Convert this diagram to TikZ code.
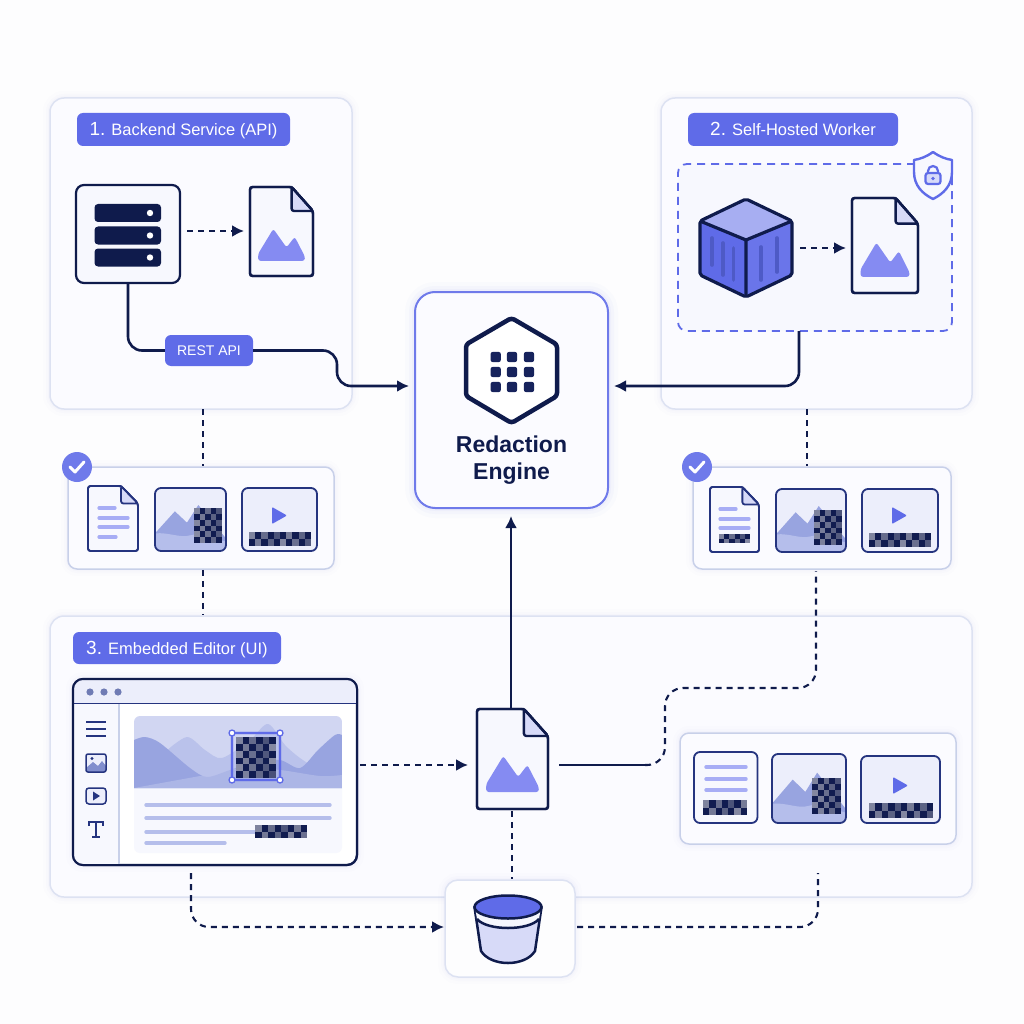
\documentclass[tikz,border=0pt]{standalone}
\usepackage{fontspec}
\setmainfont{Liberation Sans}
\usepackage{xcolor}
\usepackage{tikz}
\usetikzlibrary{arrows.meta,shapes,positioning}
\definecolor{navy}{HTML}{0F1B4C}
\definecolor{indigo}{HTML}{5F6BE8}
\definecolor{softindigo}{HTML}{858BF2}
\definecolor{paper}{HTML}{FDFDFE}
\definecolor{panelfill}{HTML}{FBFBFF}
\definecolor{panelline}{HTML}{DDE2F2}
\definecolor{stripline}{HTML}{C8D0E9}
\definecolor{iconfill}{HTML}{F7F8FE}
\definecolor{tileline}{HTML}{25347F}
\definecolor{tilefill}{HTML}{ECEEFB}
\definecolor{hillback}{HTML}{98A4E0}
\definecolor{hillfront}{HTML}{B5BEEB}
\definecolor{textline}{HTML}{A7ADF5}
\definecolor{pixdark}{HTML}{111C50}
\definecolor{pixlight}{HTML}{8A8EA6}
\tikzset{softglow/.style={preaction={draw=#1,line width=14pt,opacity=.01},
		preaction={draw=#1,line width=8pt,opacity=.014},
		preaction={draw=#1,line width=4pt,opacity=.02}},
	panel/.style={rectangle,draw=panelline,line width=1.5pt,fill=panelfill,rounded corners=14pt,inner sep=0pt,softglow=indigo},
	strip/.style={rectangle,draw=stripline,line width=1.5pt,fill=panelfill,rounded corners=9pt,inner sep=0pt,softglow=indigo},
	tag/.style={rectangle,fill=indigo,text=white,rounded corners=6pt,inner sep=0pt,text height=12pt,text depth=0pt,font=\fontsize{16.5}{18}\selectfont},
	darkbox/.style={rectangle,draw=navy,line width=2.2pt,fill=iconfill,rounded corners=8pt,inner sep=0pt},
	flowline/.style={draw=navy,line width=2.6pt,rounded corners=14pt},
	dashline/.style={draw=navy,line width=2.1pt,dash pattern=on 6pt off 5pt,rounded corners=18pt},
	tip/.style={-{Latex[length=12pt,width=12pt]}},
	sheet/.style={draw=#1,fill=iconfill,rounded corners=2.5pt,line join=round},
}
\newcommand{\bignum}[1]{{\fontsize{19}{18}\selectfont #1}}
%% x1 y1 x2 y2 cols rows
\newcommand{\pixblock}[6]{%
	\fill[pixdark] (#1,#2) rectangle (#3,#4);
	\foreach \i in {1,...,#5} \foreach \j in {1,...,#6} {
		\pgfmathparse{int(mod(\i+\j,2))}
		\ifnum\pgfmathresult=0
		\pgfmathsetmacro{\pixmix}{int(45+mod(\i*17+\j*29,55))}
		\fill[pixlight!\pixmix!pixdark] ({#1+(\i-1)*(#3-#1)/#5},{#2+(\j-1)*(#4-#2)/#6}) rectangle ({#1+\i*(#3-#1)/#5},{#2+\j*(#4-#2)/#6});
		\fi
	}
}
%% folded page, x1 y1 x2 y2 line width colour
\newcommand{\pageshape}[6]{%
	\begin{scope}[shift={(#1,#2)},x={1pt*(#3-#1)},y={1pt*(#2-#4)},line width=#5pt]
		\path[sheet=#6] (.66,0) -- (0,0) -- (0,1) -- (1,1) -- (1,.27) -- cycle;
		\draw[#6,fill=tilefill!85!indigo,rounded corners=2.5pt,line join=round] (.66,0) -- (.66,.27) -- (1,.27) -- cycle;
		\draw[#6,rounded corners=2.5pt] (.66,0) -- (0,0) -- (0,1) -- (1,1) -- (1,.27) -- (.66,0);
	\end{scope}
}
\newcommand{\hilldoc}[4]{%
	\pageshape{#1}{#2}{#3}{#4}{2.4}{navy}
	\begin{scope}[shift={(#1,#2)},x={1pt*(#3-#1)},y={1pt*(#2-#4)}]
		\fill[softindigo,rounded corners=2.5pt] (.13,.83) -- (.13,.75) -- (.37,.47) -- (.58,.68) -- (.71,.56) -- (.87,.78) -- (.87,.83) -- cycle;
	\end{scope}
}
\newcommand{\imgtile}[4]{%
	\begin{scope}
		\clip[rounded corners=6pt] (#1,#2) rectangle (#3,#4);
		\begin{scope}[shift={(#1,#2)},x={1pt*(#3-#1)},y={1pt*(#2-#4)}]
			\fill[tilefill] (0,0) rectangle (1,1);
			\fill[hillback] (0,.72) -- (.28,.37) -- (.45,.55) -- (.61,.27) -- (1,.8) -- (1,1) -- (0,1) -- cycle;
			\fill[hillfront] (0,.72) .. controls (.2,.7) and (.35,.8) .. (.5,.75) .. controls (.65,.7) and (.8,.8) .. (1,.85) -- (1,1) -- (0,1) -- cycle;
		\end{scope}
	\end{scope}
	\draw[tileline,line width=1.8pt,rounded corners=6pt] (#1,#2) rectangle (#3,#4);
}
\newcommand{\cliptile}[6]{%
	\fill[tilefill,rounded corners=6pt] (#1,#2) rectangle (#3,#4);
	\draw[tileline,line width=1.8pt,rounded corners=6pt] (#1,#2) rectangle (#3,#4);
	\fill[indigo,rounded corners=1pt,line join=round] (#5,#6) -- ++(0,17) -- ++(15,-8.5) -- cycle;
}
\begin{document}
\begin{tikzpicture}[x=1pt,y=-1pt]
	\useasboundingbox (0,0) rectangle (1024,1024);
	\fill[paper] (0,0) rectangle (1024,1024);
	
	\node[panel,minimum width=302pt,minimum height=311pt] (backend) at (201,253.5) {};
	\node[panel,minimum width=311pt,minimum height=311pt] (worker) at (816.5,253.5) {};
	\node[panel,minimum width=922pt,minimum height=281pt] (editorpanel) at (511,756.5) {};
	\node[tag,minimum width=213pt,minimum height=33pt] (tagone) at (183.5,129.5) {\bignum{1.} Backend Service (API)};
	\node[tag,minimum width=210pt,minimum height=33pt] (tagtwo) at (793,129.5) {\bignum{2.} Self-Hosted Worker};
	\node[tag,minimum width=208pt,minimum height=32pt] (tagthree) at (177,648) {\bignum{3.} Embedded Editor (UI)};
	
	%% redaction engine
	\node[rectangle,draw=indigo!90,line width=2pt,fill=panelfill,rounded corners=20pt,inner sep=0pt,
		minimum width=193pt,minimum height=216pt,
		preaction={draw=indigo,line width=20pt,opacity=.02},
		preaction={draw=indigo,line width=12pt,opacity=.03},
		preaction={draw=indigo,line width=6pt,opacity=.04}] (engine) at (511.5,400) {};
	\draw[navy,fill=white,line width=4.5pt,line join=round,rounded corners=3pt] (511.5,318) -- (557,344.5) -- (557,396) -- (511.5,423) -- (466,396) -- (466,344.5) -- cycle;
	\foreach \gx in {495.7,512,529} \foreach \gy in {357,372,387}
		\fill[navy!90!indigo,rounded corners=2.5pt] (\gx-5.2,\gy-5.2) rectangle (\gx+5.2,\gy+5.2);
	\node[text=navy,align=center,font=\fontsize{23}{27}\selectfont\bfseries,inner sep=0pt] (enginetext) at (511.5,460) {Redaction\\Engine};
	
	%% backend
	\node[darkbox,minimum width=104pt,minimum height=98pt] (server) at (128,234) {};
	\foreach \by in {204,226.5,248.5} {
		\fill[navy,rounded corners=3.5pt] (94.5,\by) rectangle (161,\by+18);
		\fill[white] (150,\by+9) circle (3.2);
	}
	\hilldoc{250}{187}{313}{276}
	\coordinate (docAin) at (244,231);
	\draw[dashline,tip] (server.east |- docAin) ++(6,0) -- (docAin);
	\node[tag,minimum width=88pt,minimum height=31pt,text height=10.5pt,font=\fontsize{14}{16}\selectfont] (restapi) at (209,350.5) {REST API};
	\coordinate (engineA) at (409,386);
	\coordinate (engineB) at (614,386);
	\draw[flowline] (server.south) |- (restapi.west);
	\draw[flowline,tip] (restapi.east) -- (337,350.5) -- (337,386) -- (engineA);
	
	%% worker
	\node[rectangle,draw=indigo,line width=1.8pt,dash pattern=on 8pt off 6pt,fill=iconfill,rounded corners=9pt,inner sep=0pt,
		minimum width=274pt,minimum height=167pt] (vpc) at (815,247.5) {};
	\path[draw=indigo,fill=iconfill,line width=2.4pt,line join=round] (933,152) .. controls (926,157) and (920,159) .. (914,160) -- (914,172) .. controls (914,186) and (923,194) .. (933,199) .. controls (943,194) and (952,186) .. (952,172) -- (952,160) .. controls (946,159) and (940,157) .. (933,152) -- cycle;
	\draw[indigo,line width=2.2pt] (928,173) -- (928,171) arc[start angle=180,end angle=360,radius=5] -- (938,173);
	\draw[indigo,fill=indigo!25,line width=2.2pt,rounded corners=2.5pt] (925.5,173) rectangle (940.5,184);
	\fill[indigo] (933,178.5) circle (1.8);
	\path[fill=indigo] (700,221) -- (746,240) -- (746,297) -- (700,275) -- cycle;
	\path[fill=indigo!93!white] (792,221) -- (746,240) -- (746,297) -- (792,275) -- cycle;
	\path[fill=indigo!55!white] (746,199) -- (792,221) -- (746,240) -- (700,221) -- cycle;
	\foreach \sx/\sa/\sb in {712/238/265,723/243/275,733.5/248/280,761/247/280,777/238/272}
		\draw[indigo!78!navy,line width=3.6pt,line cap=round] (\sx,\sa) -- (\sx,\sb);
	\draw[navy,line width=3.2pt,line join=round,rounded corners=2pt] (746,199) -- (792,221) -- (792,275) -- (746,297) -- (700,275) -- (700,221) -- cycle;
	\draw[navy,line width=3.2pt,line join=round] (700,221) -- (746,240) -- (792,221) (746,240) -- (746,297);
	\hilldoc{852}{198}{918}{293}
	\coordinate (docBin) at (846,248);
	\coordinate (cubeout) at (800,248);
	\draw[dashline,tip] (cubeout) -- (docBin);
	\coordinate (vpcout) at (799,331);
	\draw[flowline,tip] (vpcout) -- (799,386) -- (engineB);
	
	%% redacted results under the first two panels
	\node[strip,minimum width=266pt,minimum height=102pt] (stripA) at (201,518) {};
	\node[strip,minimum width=258pt,minimum height=102pt] (stripB) at (822,518) {};
	\coordinate (backendout) at (203,409);
	\coordinate (workerout) at (807,409);
	\draw[dashline] (backendout) -- (backendout |- stripA.north);
	\draw[dashline] (workerout) -- (workerout |- stripB.north);
	\draw[dashline] (backendout |- stripA.south) -- (backendout |- editorpanel.north);
	\node[circle,fill=indigo!90!white,minimum size=30pt,inner sep=0pt] (checkA) at (77,467) {};
	\node[circle,fill=indigo!90!white,minimum size=30pt,inner sep=0pt] (checkB) at (697,467) {};
	\foreach \cx in {77,697}
		\draw[white,line width=3pt,line cap=round,line join=round] (\cx-7,467) -- (\cx-2,472) -- (\cx+7,462);
	
	\pageshape{88}{486}{138}{551}{1.8}{tileline}
	\foreach \lx/\ly in {115/508,128/518,128/527,116/537}
		\draw[textline,line width=3.2pt,line cap=round] (99,\ly) -- (\lx,\ly);
	\imgtile{155}{488}{226}{551}
	\pixblock{194}{508}{222}{543}{5}{6}
	\cliptile{242}{488}{317}{551}{272}{507}
	\pixblock{249}{532}{311}{546}{10}{2}
	
	\pageshape{710}{487}{759}{552}{1.8}{tileline}
	\foreach \lx/\ly in {736/509,749/519,749/528}
		\draw[textline,line width=3.2pt,line cap=round] (720,\ly) -- (\lx,\ly);
	\pixblock{719}{534}{750}{543}{6}{2}
	\imgtile{776}{489}{846}{552}
	\pixblock{814}{510}{842}{545}{5}{6}
	\cliptile{862}{489}{938}{552}{892}{507}
	\pixblock{869}{533}{931}{547}{10}{2}
	
	%% embedded editor
	\node[darkbox,fill=white,rounded corners=10pt,minimum width=284pt,minimum height=186pt,softglow=indigo] (editor) at (215,772) {};
	\begin{scope}
		\clip[rounded corners=10pt] (73,679) rectangle (357,865);
		\fill[tilefill] (73,679) rectangle (357,703);
		\fill[iconfill] (73,703) rectangle (119,865);
	\end{scope}
	\draw[tileline,line width=1.4pt] (73,703.5) -- (357,703.5);
	\draw[stripline,line width=1.6pt] (119,704) -- (119,864);
	\foreach \dx in {90,104,118}
		\fill[hillback!70!navy] (\dx,692) circle (3.6);
	\draw[navy,line width=2pt,rounded corners=10pt] (73,679) rectangle (357,865);
	\foreach \hy in {722,729,736}
		\draw[tileline,line width=1.6pt] (86,\hy) -- (106,\hy);
	\fill[tilefill,rounded corners=2pt] (86,754) rectangle (106,772);
	\begin{scope}
		\clip[rounded corners=2pt] (86,754) rectangle (106,772);
		\fill[hillback!80!tileline] (86,772) -- (86,768) -- (93,762) -- (98,766) -- (102,761) -- (106,766) -- (106,772) -- cycle;
	\end{scope}
	\fill[tileline] (92,758.5) circle (1.6);
	\draw[tileline,line width=1.5pt,rounded corners=2pt] (86,754) rectangle (106,772);
	\draw[tileline,fill=tilefill,line width=1.5pt,rounded corners=3pt] (86,788) rectangle (106,804);
	\fill[tileline] (93,791.5) -- (93,800.5) -- (100,796) -- cycle;
	\draw[tileline,line width=1.7pt] (89,826) -- (89,822) -- (103,822) -- (103,826) (96,822) -- (96,837) (92,837) -- (100,837);
	\fill[iconfill,rounded corners=6pt] (134,760) rectangle (342,853);
	\begin{scope}
		\clip[rounded corners=6pt] (134,716) rectangle (342,800);
		\clip (134,716) rectangle (342,788);
		\fill[tilefill!68!hillback] (134,716) rectangle (342,788);
		\fill[hillback!60!tilefill] (134,788) -- plot[smooth] coordinates {(165,752) (187,737) (205,750) (222,758) (250,740) (268,724) (285,745) (300,758) (320,770) (342,775)} -- (342,788) -- cycle;
		\fill[hillback] (134,788) -- plot[smooth] coordinates {(134,740) (145,737) (160,743) (190,768) (207,777) (230,770) (255,762) (280,760) (300,768) (318,750) (335,735) (342,735)} -- (342,788) -- cycle;
		\fill[hillback!60!tilefill,opacity=.6] (134,788) -- plot[smooth] coordinates {(200,776) (240,768) (280,770) (320,776) (342,775)} -- (342,788) -- cycle;
	\end{scope}
	\foreach \ty/\tx in {805/330,818/330,832/260,843/225}
		\draw[hillfront,line width=3.4pt,line cap=round] (146,\ty) -- (\tx,\ty);
	\pixblock{255}{825}{307}{838}{8}{2}
	\draw[indigo,line width=4pt,opacity=.18] (232,733) rectangle (280,780);
	\pixblock{236}{737}{276}{778}{6}{6}
	\draw[indigo,line width=1.8pt] (232,733) rectangle (280,780);
	\foreach \sx in {232,280} \foreach \sy in {733,780}
		\draw[indigo,fill=white,line width=1.3pt] (\sx,\sy) circle (3);
	
	%% exported file in the middle
	\node[rectangle,minimum width=71pt,minimum height=100pt,inner sep=0pt] (docmid) at (512.5,759) {};
	\hilldoc{477}{709}{548}{809}
	\coordinate (docCin) at (468,765);
	\draw[dashline,tip] (editor.east |- docCin) ++(2,0) -- (docCin);
	\coordinate (engineC) at (511,516);
	\draw[flowline,tip] (docmid.north -| engineC) -- (engineC);
	
	%% output strip of the editor
	\node[strip,minimum width=276pt,minimum height=111pt] (stripC) at (818,788.5) {};
	\draw[tileline,fill=iconfill,line width=1.8pt,rounded corners=6pt] (694,752) rectangle (757.5,823);
	\foreach \ly in {767,779,790}
		\draw[textline,line width=3.4pt,line cap=round] (706,\ly) -- (746,\ly);
	\pixblock{703}{800}{747}{815}{7}{2}
	\imgtile{772}{754}{846}{823}
	\pixblock{812}{778}{841}{814}{5}{6}
	\cliptile{861}{756}{940}{823}{893}{777}
	\pixblock{869}{803}{933}{818}{10}{2}
	\coordinate (docCout) at (559,765);
	\coordinate (solidend) at (645,765);
	\coordinate (stripBin) at (816,571);
	\draw[flowline] (docCout) -- (solidend);
	\draw[dashline] (solidend) -- (665,765) -- (665,688) -- (816,688) -- (stripBin);
	
	%% storage
	\node[rectangle,draw=panelline,line width=1.5pt,fill=paper,rounded corners=13pt,inner sep=0pt,
		minimum width=130pt,minimum height=97pt,softglow=indigo] (store) at (510,928.5) {};
	\coordinate (docCdown) at (512,811);
	\draw[dashline] (docCdown) -- (docCdown |- store.north);
	\path[fill=tilefill!85!indigo,draw=navy,line width=2.5pt,line join=round] (474.5,907) -- (481,951) .. controls (486,959) and (497,963) .. (508,963) .. controls (519,963) and (530,959) .. (535,951) -- (541.5,907) -- cycle;
	\path[fill=tilefill!50!white] (475.5,910) -- (477,919) .. controls (487,931) and (529,931) .. (539,919) -- (540.5,910) -- cycle;
	\draw[navy,line width=2.5pt] (477,919) .. controls (487,931) and (529,931) .. (539,919);
	\draw[navy,fill=indigo,line width=2.5pt] (508,907) ellipse [x radius=33.5,y radius=11.5];
	\coordinate (editordrop) at (191,873);
	\coordinate (panelCdrop) at (818,873);
	\coordinate (storein) at (444,927);
	\coordinate (storeout) at (577,927);
	\draw[dashline,tip] (editordrop) -- (191,927) -- (storein);
	\draw[dashline] (storeout) -- (818,927) -- (panelCdrop);
\end{tikzpicture}
\end{document}
